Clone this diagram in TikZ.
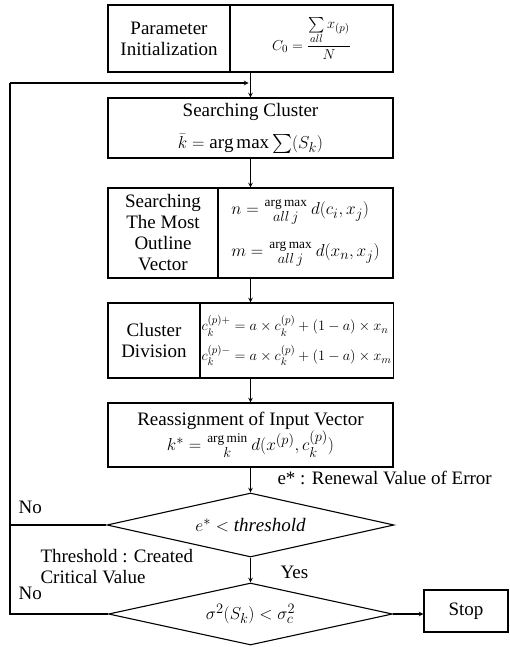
\documentclass[tikz,border=0pt]{standalone}
\usepackage{amsmath}
\usepackage{amssymb}
\usepackage{fontspec}
\setmainfont{Liberation Serif}
\usetikzlibrary{shapes.geometric}

\newcommand{\opunder}[2]{\genfrac{}{}{0pt}{1}{\mathrm{#1}}{#2}}

\begin{document}
\begin{tikzpicture}[x=1pt, y=-1pt, >=stealth, line width=1.1pt,
	every node/.style={font=\rmfamily\fontsize{19}{21}\selectfont},
	box/.style={draw, rectangle, align=center, inner sep=2pt},
	decision/.style={draw, diamond, aspect=5, inner sep=0pt},
	note/.style={align=left, inner sep=0pt, anchor=west}]
	\useasboundingbox (0,0) rectangle (509,647);

% draw process boxes
	\node[box, minimum width=122, minimum height=67] (init) at (169,38.5) {Parameter\\Initialization};
	\node[box, minimum width=163, minimum height=67, font=\rmfamily\fontsize{15.5}{18}\selectfont] (c0) at (311.5,38.5) 
	{$C_0=\dfrac{\sum\limits_{all}x_{(p)}}{N}$};
	
	\node[box, minimum width=285, minimum height=60] (search) at (250.5,128) {Searching Cluster\\[11pt]$\bar{k}=\arg\max\sum(S_k)$};
	
	\node[box, minimum width=110, minimum height=90] (outl) at (163,233) {Searching\\The Most\\Outline\\Vector};
	\node[box, minimum width=175, minimum height=90, align=left] (nm) at (305.5,233) 
	{$n=\opunder{arg\,max}{all\,j}\,d(c_i,x_j)$\\[16pt]$m=\opunder{arg\,max}{all\,j}\,d(x_n,x_j)$};
	
	\node[box, minimum width=92, minimum height=75] (divl) at (154,340.5) {Cluster\\Division};
	\node[box, minimum width=193, minimum height=75, align=left, font=\rmfamily\fontsize{15}{18}\selectfont] (div) at (296.5,340.5) 
	{$c_k^{(p)+}=a\times c_k^{(p)}+(1-a)\times x_n$\\[8pt]$c_k^{(p)-}=a\times c_k^{(p)}+(1-a)\times x_m$};
	
	\node[box, minimum width=285, minimum height=64] (reas) at (250.5,435) 
	{Reassignment of Input Vector\\$k^*=\opunder{arg\,min}{k}\,d(x^{(p)},c_k^{(p)})$};

% draw decisions
	\node[decision, minimum width=287, minimum height=64] (err) at (250.5,525) {$e^{*}<\mathit{threshold}$};
	\node[decision, minimum width=284, minimum height=62] (var) at (250.5,614) {$\sigma^2(S_k)<\sigma_c^2$};
	\node[box, minimum width=84, minimum height=42] (stop) at (466,611) {Stop};

% loop back points
	\coordinate (loop) at (10,83);
	\coordinate (join) at (250.5,83);

% draw arrows
	\draw[->] (c0.south -| search.north) -- (search.north);
	\draw[->] (search.south) -- (search.south |- nm.north);
	\draw[->] (search.south |- nm.south) -- (search.south |- div.north);
	\draw[->] (search.south |- div.south) -- (reas.north);
	\draw[->] (reas.south) -- (err.north);
	\draw[->] (err.south) -- (var.north);
	\draw[->] (var.east) -- (var.east -| stop.west);
	
	\draw (var.west) -- (var.west -| loop) -- (loop);
	\draw (err.west) -- (err.west -| loop);
	\draw[->, shorten >=2pt] (loop) -- (join);

% labels
	\node[note] (no1) at (18,507) {No};
	\node[note] (no2) at (18,593) {No};
	\node[note] (yes) at (280,572) {Yes};
	\node[note] (renew) at (277,478) {e* : Renewal Value of Error};
	\node[note] (thr) at (40,567) {Threshold : Created\\Critical Value};

\end{tikzpicture}
\end{document}
